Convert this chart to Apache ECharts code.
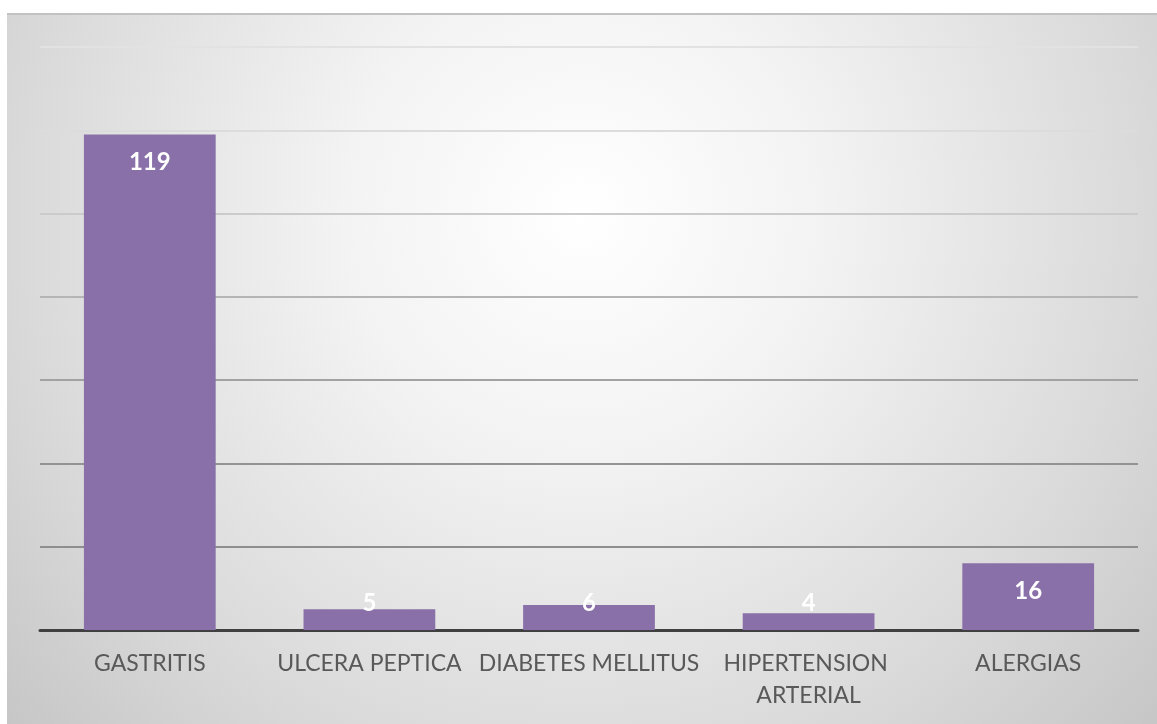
<!DOCTYPE html>
<html>
<head>
<meta charset="utf-8">
<script src="https://cdn.jsdelivr.net/npm/echarts@6/dist/echarts.min.js"></script>
<style>
  html, body { margin: 0; padding: 0; background: #ffffff; }
  #chart { width: 1157px; height: 724px; }
</style>
</head>
<body>
<div id="chart"></div>
<script>
// Conditions reported
const categories = ['GASTRITIS', 'ULCERA PEPTICA', 'DIABETES MELLITUS', 'HIPERTENSION ARTERIAL', 'ALERGIAS'];
const counts = [119, 5, 6, 4, 16];

// Value axis range and step
const yMin = 0;
const yMax = 140;
const yStep = 20;

// Grid lines fade as they rise toward the lighter top of the panel
const gridLineColors = ['#8c8c8c', '#8e8e8e', '#939393', '#a2a2a2', '#b5b5b5', '#cbcbcb', '#dcdcdc', '#e2e2e2'];

const chart = echarts.init(document.getElementById('chart'), null, { renderer: 'canvas' });

const barData = counts.map(function (v) {
  const small = v < 10;
  return {
    value: v,
    label: small
      ? { position: 'insideBottom', distance: 15 }
      : { position: 'insideTop', distance: 16 }
  };
});

chart.setOption({
  animation: false,
  backgroundColor: '#ffffff',
  graphic: [
    {
      type: 'rect',
      z: -10,
      silent: true,
      shape: { x: 7, y: 14, width: 1150, height: 710 },
      style: {
        fill: new echarts.graphic.RadialGradient(0.5, 0.28, 1.12, [
          { offset: 0, color: '#ffffff' },
          { offset: 0.3, color: '#f3f3f3' },
          { offset: 0.7, color: '#dadada' },
          { offset: 1, color: '#c4c4c4' }
        ])
      }
    },
    {
      type: 'line',
      z: -9,
      silent: true,
      shape: { x1: 7, y1: 14, x2: 1157, y2: 14 },
      style: { stroke: '#c2c2c2', lineWidth: 2 }
    }
  ],
  grid: {
    left: 40,
    right: 19,
    top: 47,
    bottom: 94,
    containLabel: false
  },
  xAxis: {
    type: 'category',
    data: categories,
    axisTick: { show: false },
    axisLine: { show: true, lineStyle: { color: '#404040', width: 3 } },
    axisLabel: {
      color: '#595959',
      fontFamily: 'Lato',
      fontSize: 23,
      lineHeight: 32,
      margin: 18,
      interval: 0,
      width: 250,
      overflow: 'break'
    },
    splitLine: { show: false }
  },
  yAxis: {
    type: 'value',
    min: yMin,
    max: yMax,
    interval: yStep,
    axisLabel: { show: false },
    axisLine: { show: false },
    axisTick: { show: false },
    splitLine: { show: true, lineStyle: { color: gridLineColors, width: 2 } }
  },
  series: [
    {
      type: 'bar',
      data: barData,
      barWidth: '60%',
      itemStyle: { color: '#8a70a9' },
      label: {
        show: true,
        color: '#ffffff',
        fontFamily: 'Lato',
        fontWeight: 'bold',
        fontSize: 24,
        lineHeight: 24
      }
    }
  ]
});
</script>
</body>
</html>
